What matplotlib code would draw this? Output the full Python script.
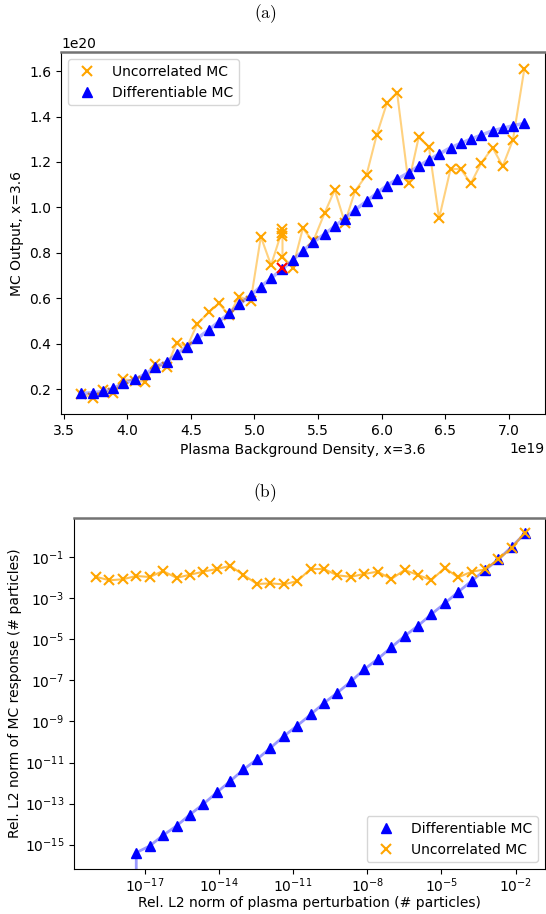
import numpy as np
import matplotlib
matplotlib.use("Agg")
import matplotlib.pyplot as plt
from matplotlib.ticker import FixedLocator, NullLocator, LogFormatterSciNotation

plt.rcParams['mathtext.fontset'] = 'cm'

# (a) density scan, x in 1e19, outputs in 1e20
density = [3.64, 3.73, 3.81, 3.89, 3.97, 4.06, 4.14, 4.22, 4.31, 4.39, 4.47,
           4.55, 4.64, 4.72, 4.80, 4.88, 4.97, 5.05, 5.13, 5.22, 5.30, 5.38,
           5.46, 5.55, 5.63, 5.71, 5.79, 5.88, 5.96, 6.04, 6.12, 6.21, 6.29,
           6.37, 6.45, 6.54, 6.62, 6.70, 6.78, 6.87, 6.95, 7.03, 7.12]
diff_mc = [0.181, 0.184, 0.190, 0.203, 0.225, 0.243, 0.265, 0.296, 0.320, 0.354,
           0.386, 0.423, 0.460, 0.497, 0.533, 0.573, 0.613, 0.651, 0.688, 0.729,
           0.768, 0.808, 0.847, 0.882, 0.917, 0.951, 0.989, 1.027, 1.062, 1.096,
           1.124, 1.153, 1.182, 1.209, 1.235, 1.263, 1.282, 1.301, 1.318, 1.338,
           1.348, 1.360, 1.370]
# uncorrelated runs (several repeats at 5.22)
unc_density = [3.64, 3.73, 3.81, 3.89, 3.97, 4.06, 4.14, 4.22, 4.31, 4.39, 4.47,
               4.55, 4.64, 4.72, 4.80, 4.88, 4.97, 5.05, 5.13, 5.22, 5.22, 5.22,
               5.22, 5.30, 5.38, 5.46, 5.55, 5.63, 5.71, 5.79, 5.88, 5.96, 6.04,
               6.12, 6.21, 6.29, 6.37, 6.45, 6.54, 6.62, 6.70, 6.78, 6.87, 6.95,
               7.03, 7.12]
unc_mc = [0.178, 0.162, 0.196, 0.181, 0.243, 0.237, 0.232, 0.310, 0.298, 0.404,
          0.386, 0.486, 0.538, 0.577, 0.526, 0.607, 0.588, 0.871, 0.746, 0.903,
          0.889, 0.875, 0.783, 0.734, 0.908, 0.850, 0.974, 1.077, 0.933, 1.072,
          1.143, 1.319, 1.459, 1.506, 1.106, 1.309, 1.267, 0.952, 1.169, 1.169,
          1.106, 1.194, 1.263, 1.182, 1.297, 1.611]
nominal = (5.22, 0.732)

# (b) perturbation scan, log10 values
pert_exp = [-18.98, -18.44, -17.89, -17.35, -16.81, -16.27, -15.72, -15.18, -14.64,
            -14.09, -13.55, -13.01, -12.46, -11.92, -11.38, -10.84, -10.29, -9.75,
            -9.21, -8.66, -8.12, -7.58, -7.03, -6.49, -5.95, -5.41, -4.86, -4.32,
            -3.78, -3.23, -2.69, -2.15, -1.61]
diff_resp_exp = [-15.39, -15.07, -14.55, -14.09, -13.54, -13.03, -12.46, -11.91,
                 -11.34, -10.84, -10.29, -9.72, -9.21, -8.66, -8.10, -7.60, -7.05,
                 -6.46, -5.96, -5.39, -4.84, -4.34, -3.78, -3.24, -2.69, -2.16,
                 -1.62, -1.10, -0.48, 0.17]
unc_resp_exp = [-1.95, -2.12, -2.07, -1.91, -1.96, -1.67, -2.00, -1.85, -1.70, -1.57,
                -1.42, -1.86, -2.30, -2.27, -2.32, -2.16, -1.57, -1.57, -1.88, -1.95,
                -1.81, -1.70, -2.06, -1.62, -1.86, -2.11, -1.52, -1.98, -1.70, -1.59,
                -1.10, -0.53, 0.20]

pert = 10.0 ** np.array(pert_exp)
# first three differentiable responses are exactly zero
diff_resp = np.concatenate([[0.0, 0.0, 0.0], 10.0 ** np.array(diff_resp_exp)])
unc_resp = 10.0 ** np.array(unc_resp_exp)

fig = plt.figure(figsize=(5.46, 9.14), dpi=100)

# ---- (a)
ax1 = fig.add_axes([0.1117, 0.547, 0.886, 0.396])
ax1.plot(np.array(unc_density) * 1e19, np.array(unc_mc) * 1e20, color='orange',
         alpha=0.5, lw=1.5)
ax1.plot(np.array(unc_density) * 1e19, np.array(unc_mc) * 1e20, 'x', color='orange',
         ms=7, mew=1.5, label='Uncorrelated MC')
ax1.plot(np.array(density) * 1e19, np.array(diff_mc) * 1e20, color='blue',
         alpha=0.3, lw=2.5)
ax1.plot(np.array(density) * 1e19, np.array(diff_mc) * 1e20, '^', color='blue',
         ms=7, label='Differentiable MC')
ax1.plot(nominal[0] * 1e19, nominal[1] * 1e20, 'x', color='red', ms=7, mew=1.5,
         zorder=5)
ax1.set_xlim(3.48e19, 7.28e19)
ax1.set_ylim(0.09e20, 1.684e20)
ax1.set_xlabel('Plasma Background Density, x=3.6')
ax1.set_ylabel('MC Output, x=3.6')
ax1.legend(loc='upper left')
ax1.spines['top'].set_color('0.45')
ax1.spines['top'].set_linewidth(1.8)
fig.text(0.485, 0.985, r'$\mathrm{(a)}$', ha='center', va='center', fontsize=12.5)

# ---- (b)
ax2 = fig.add_axes([0.136, 0.0492, 0.862, 0.3844])
ax2.set_xscale('log')
ax2.set_yscale('log')
ax2.plot(pert, diff_resp, color='blue', alpha=0.4, lw=2)
ax2.plot(pert, diff_resp, '^', color='blue', ms=7, label='Differentiable MC')
ax2.plot(pert, unc_resp, color='orange', alpha=0.7, lw=1.5)
ax2.plot(pert, unc_resp, 'x', color='orange', ms=7, mew=1.5, label='Uncorrelated MC')
ax2.set_xlim(10 ** -19.86, 10 ** -0.81)
ax2.set_ylim(10 ** -16.19, 10 ** 0.93)
ax2.xaxis.set_major_locator(FixedLocator([1e-17, 1e-14, 1e-11, 1e-8, 1e-5, 1e-2]))
ax2.yaxis.set_major_locator(FixedLocator([10.0 ** k for k in range(-15, 0, 2)]))
ax2.xaxis.set_major_formatter(LogFormatterSciNotation())
ax2.yaxis.set_major_formatter(LogFormatterSciNotation())
ax2.xaxis.set_minor_locator(NullLocator())
ax2.yaxis.set_minor_locator(NullLocator())
ax2.tick_params(axis='x', pad=1.5)
ax2.set_xlabel('Rel. L2 norm of plasma perturbation (# particles)', labelpad=1)
ax2.set_ylabel('Rel. L2 norm of MC response (# particles)', labelpad=2)
ax2.legend(loc='lower right')
ax2.spines['top'].set_color('0.45')
ax2.spines['top'].set_linewidth(1.8)
fig.text(0.485, 0.461, r'$\mathrm{(b)}$', ha='center', va='center', fontsize=12.5)

fig.savefig('out.png', dpi=100)
